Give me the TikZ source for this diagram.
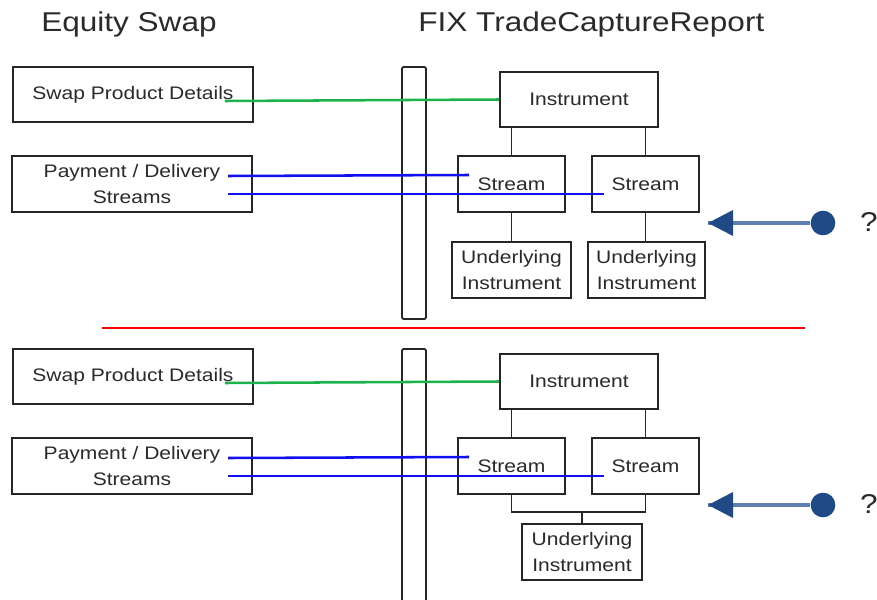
\documentclass[tikz,border=0pt]{standalone}
\usepackage{fontspec}
\setmainfont{Liberation Sans}[FakeStretch=1.16]
\newcommand\boxfont{\fontsize{13.6}{18.8}\selectfont}
\newcommand\titlefont{\fontsize{20.4}{24}\selectfont}
% rectangle node given by its corners: name, x1, y1, x2, y2, text
\newcommand\cbox[7][]{\node[box,#1,minimum width={(#5-#3)*0.75pt},minimum height={(#6-#4)*0.75pt}] (#2) at ({(#3+#5)/2},{(#4+#6)/2}) {#7};}
\definecolor{navy}{HTML}{1F4A85}
\definecolor{steel}{HTML}{5F7FB2}
\definecolor{ink}{HTML}{2A2A2A}
\definecolor{lgreen}{HTML}{1DB24C}
\definecolor{lblue}{HTML}{1010F0}
\begin{document}
\begin{tikzpicture}[x=0.75pt,y=-0.75pt,
  box/.style={draw=black!85,line width=1.4pt,fill=white,inner sep=0pt,align=center,text=ink,font=\boxfont},
  link/.style={draw=black!85,line width=1.4pt},
  greenline/.style={draw=lgreen,line width=1.9pt},
  blueline/.style={draw=lblue,line width=1.9pt},
  arrowline/.style={draw=steel,line width=2.3pt},
  dot/.style={circle,fill=navy,minimum size=18.5pt,inner sep=0pt},
  title/.style={text=ink,font=\titlefont,inner sep=0pt}]
\useasboundingbox (0,0) rectangle (877,599);

% column headings
\node[title,anchor=base west] (h1) at (41,32) {Equity Swap};
\node[title,anchor=base west] (h2) at (418,32) {FIX TradeCaptureReport};

% the two message layouts share everything above the underlying instruments
\foreach \p/\dy in {t/0,b/282}{
  \begin{scope}[shift={(0,\dy)}]
    \cbox{\p sw}{13}{67}{253}{122}{Swap Product Details}
    \cbox{\p pd}{12}{156}{252}{212}{Payment / Delivery\\Streams}
    \cbox{\p in}{500}{72}{658}{127}{Instrument}
    \cbox{\p sa}{458}{156}{565}{212}{Stream}
    \cbox{\p sb}{592}{156}{699}{212}{Stream}
    \draw[link] (\p sa.north) -- (\p sa.north |- \p in.south);
    \draw[link] (\p sb.north) -- (\p sb.north |- \p in.south);
    % mapping arrow and question mark
    \node[dot] (\p q) at (823,223) {};
    \coordinate (\p tip) at (708,223);
    \draw[arrowline] (\p q) -- (\p tip);
    \fill[navy] (\p tip) -- ++(25,-13) -- ++(0,26) -- cycle;
    \node[title] (\p qm) at (869,222) {?};
  \end{scope}
}

% separator between the two layouts
\coordinate (r1) at (102,328);
\coordinate (r2) at (805,328);
\draw[red,line width=1.8pt] (r1) -- (r2);

% message body bars
\node[box,rounded corners=1pt,minimum width=18pt,minimum height=189pt] (bar1) at (414,193) {};
\draw[link,rounded corners=1pt] (402,600) -- (402,349) -- (426,349) -- (426,600);

% upper layout: one underlying instrument per stream
\cbox{tua}{452}{242}{571}{298}{Underlying\\Instrument}
\cbox{tub}{588}{242}{705}{298}{Underlying\\Instrument}
\draw[link] (tsa.south) -- (tua.north -| tsa.south);
\draw[link] (tsb.south) -- (tub.north -| tsb.south);

% lower layout: one underlying instrument shared by both streams
\cbox{bu}{522}{524}{642}{580}{Underlying\\Instrument}
\coordinate (bj) at (582,512);
\draw[link] (bsa.south) |- (bj) -| (bsb.south);
\draw[link] (bj) -- (bu.north);

% field mappings
\foreach \p/\dy in {t/0,b/282}{
  \begin{scope}[shift={(0,\dy)}]
    \coordinate (\p g) at (225,101);
    \coordinate (\p b1) at (228,176);
    \coordinate (\p b1e) at (469,175);
    \coordinate (\p b2) at (228,194);
    \coordinate (\p b2e) at (604,194);
  \end{scope}
  \draw[greenline] (\p g) -- (\p in.west);
  \draw[blueline] (\p b1) -- (\p b1e);
  \draw[blueline] (\p b2) -- (\p b2e);
}
\end{tikzpicture}
\end{document}
